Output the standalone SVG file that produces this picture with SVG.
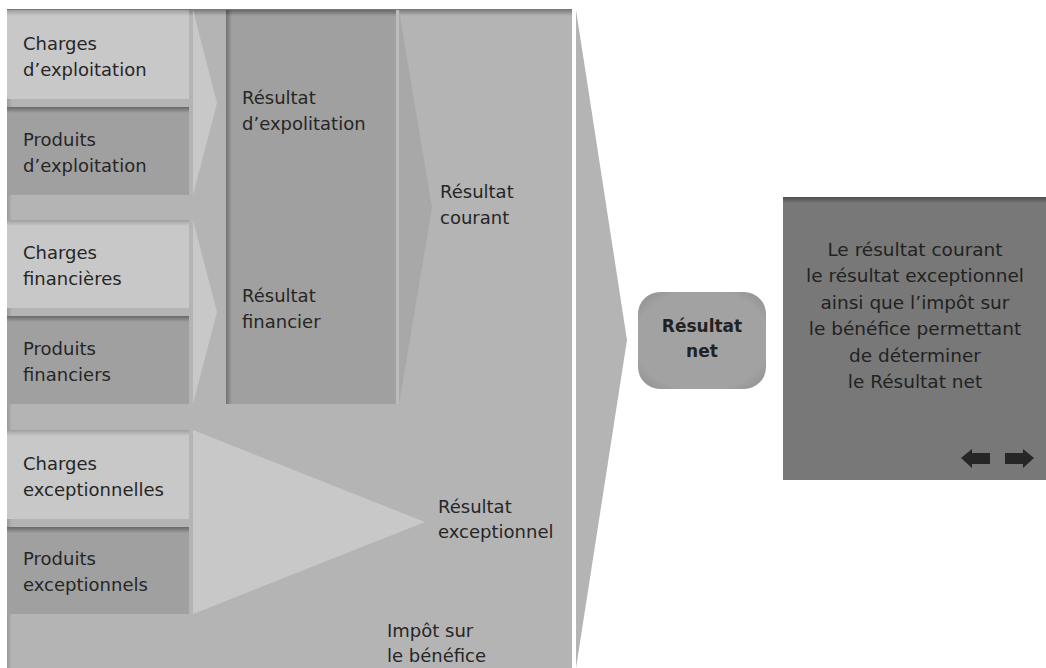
<svg xmlns="http://www.w3.org/2000/svg" width="1046" height="668" viewBox="0 0 1046 668">
<style>
.t{font-family:"DejaVu Sans","Liberation Sans",sans-serif;font-size:18px;fill:#262626}
.tb{font-family:"DejaVu Sans","Liberation Sans",sans-serif;font-size:17px;font-weight:bold;fill:#222}
.tp{font-family:"DejaVu Sans","Liberation Sans",sans-serif;font-size:18.5px;fill:#222;text-anchor:middle}
.light{fill:#c8c8c8}
.dark{fill:#a0a0a0}
.shade{fill:url(#topShade)}
.lshade{fill:url(#leftShade)}
</style>
<defs>
<linearGradient id="topShade" x1="0" y1="0" x2="0" y2="1">
<stop offset="0" stop-color="#000" stop-opacity="0.35"/>
<stop offset="1" stop-color="#000" stop-opacity="0"/>
</linearGradient>
<linearGradient id="leftShade" x1="0" y1="0" x2="1" y2="0">
<stop offset="0" stop-color="#000" stop-opacity="0.3"/>
<stop offset="1" stop-color="#000" stop-opacity="0"/>
</linearGradient>
<radialGradient id="netShade" cx="0.5" cy="0.5" r="0.7">
<stop offset="0.75" stop-color="#a2a2a2"/>
<stop offset="1" stop-color="#8c8c8c"/>
</radialGradient>
</defs>
<rect width="1046" height="668" fill="#fff"/>
<g id="panel">
<rect x="7" y="9" width="565" height="659" fill="#b4b4b4"/>
<rect x="7" y="9" width="565" height="7" class="shade"/>
<rect x="7" y="9" width="5" height="659" class="lshade" opacity="0.5"/>
</g>
<g id="connectors">
<polygon points="193,10 217,103 193,195" class="light"/>
<polygon points="193,220 217,312 193,404" class="light"/>
<polygon points="193,430 425,522 193,614" class="light"/>
<polygon points="399,10 432,207 399,404" fill="#a8a8a8"/>
<rect x="396" y="10" width="3" height="394" fill="#bcbcbc"/>
<polygon points="576,10 627,340 576,668" fill="#b4b4b4"/>
</g>
<g id="charges-exploitation">
<rect x="7" y="10" width="182" height="89" class="light"/>
<rect x="7" y="10" width="182" height="6" class="shade" opacity="0.6"/>
<text class="t" x="23" y="50">Charges</text>
<text class="t" x="23" y="76">d’exploitation</text>
</g>
<g id="produits-exploitation">
<rect x="7" y="107" width="182" height="88" class="dark"/>
<rect x="7" y="107" width="182" height="6" class="shade"/>
<text class="t" x="23" y="146">Produits</text>
<text class="t" x="23" y="172">d’exploitation</text>
</g>
<g id="charges-financieres">
<rect x="7" y="220" width="182" height="88" class="light"/>
<rect x="7" y="220" width="182" height="6" class="shade" opacity="0.6"/>
<text class="t" x="23" y="259">Charges</text>
<text class="t" x="23" y="285">financières</text>
</g>
<g id="produits-financiers">
<rect x="7" y="316" width="182" height="88" class="dark"/>
<rect x="7" y="316" width="182" height="6" class="shade"/>
<text class="t" x="23" y="355">Produits</text>
<text class="t" x="23" y="381">financiers</text>
</g>
<g id="charges-exceptionnelles">
<rect x="7" y="430" width="182" height="89" class="light"/>
<rect x="7" y="430" width="182" height="6" class="shade" opacity="0.6"/>
<text class="t" x="23" y="470">Charges</text>
<text class="t" x="23" y="496">exceptionnelles</text>
</g>
<g id="produits-exceptionnels">
<rect x="7" y="527" width="182" height="87" class="dark"/>
<rect x="7" y="527" width="182" height="6" class="shade"/>
<text class="t" x="23" y="565">Produits</text>
<text class="t" x="23" y="591">exceptionnels</text>
</g>
<g id="resultat-exploitation-financier">
<rect x="226" y="10" width="170" height="394" class="dark"/>
<rect x="226" y="10" width="6" height="394" class="lshade"/>
<rect x="226" y="10" width="170" height="6" class="shade"/>
<text class="t" x="242" y="104">Résultat</text>
<text class="t" x="242" y="130">d’expolitation</text>
<text class="t" x="242" y="302">Résultat</text>
<text class="t" x="242" y="328">financier</text>
</g>
<g id="resultat-courant">
<text class="t" x="440" y="198">Résultat</text>
<text class="t" x="440" y="224">courant</text>
</g>
<g id="resultat-exceptionnel">
<text class="t" x="438" y="513">Résultat</text>
<text class="t" x="438" y="538">exceptionnel</text>
</g>
<g id="impot">
<text class="t" x="387" y="637">Impôt sur</text>
<text class="t" x="387" y="662">le bénéfice</text>
</g>
<g id="resultat-net">
<rect x="638" y="292" width="128" height="97" rx="22" fill="url(#netShade)"/>
<text class="tb" x="702" y="332" text-anchor="middle">Résultat</text>
<text class="tb" x="702" y="357" text-anchor="middle">net</text>
</g>
<g id="info-panel">
<rect x="783" y="197" width="263" height="283" fill="#787878"/>
<rect x="783" y="197" width="263" height="6" class="shade"/>
<text class="tp" x="915" y="256">Le résultat courant</text>
<text class="tp" x="915" y="282">le résultat exceptionnel</text>
<text class="tp" x="915" y="309">ainsi que l’impôt sur</text>
<text class="tp" x="915" y="335">le bénéfice permettant</text>
<text class="tp" x="915" y="362">de déterminer</text>
<text class="tp" x="915" y="388">le Résultat net</text>
<polygon points="961,458 972,449 972,453 990,453 990,464 972,464 972,468" fill="#262626"/>
<polygon points="1034,458 1023,449 1023,453 1005,453 1005,464 1023,464 1023,468" fill="#262626"/>
</g>
</svg>
